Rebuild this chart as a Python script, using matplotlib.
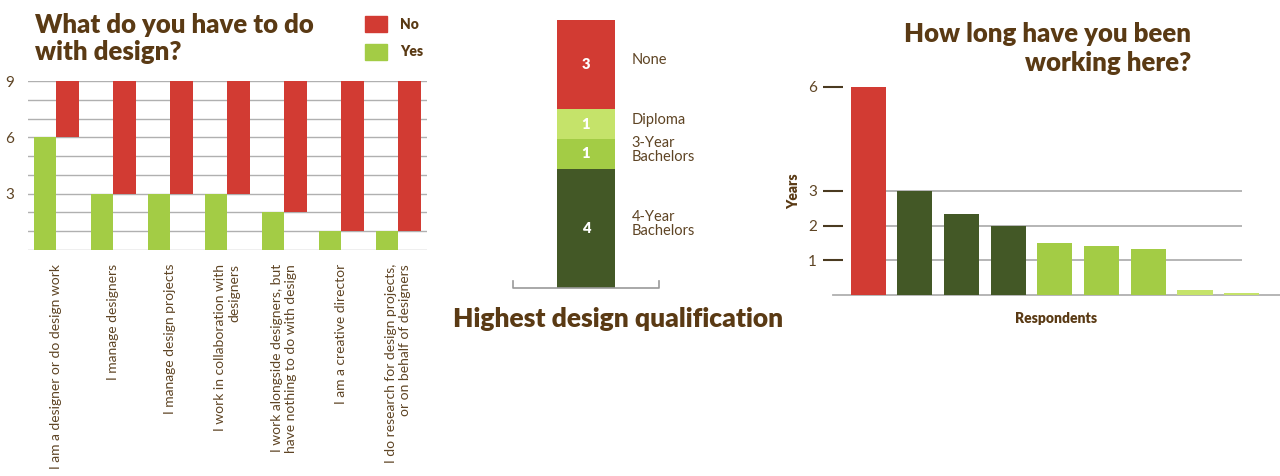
import matplotlib
matplotlib.use('Agg')
import matplotlib.pyplot as plt
from matplotlib.patches import Patch
import numpy as np

plt.rcParams['font.family'] = ['Lato', 'DejaVu Sans']

# --- data ---
roles = ['I am a designer or do design work',
         'I manage designers',
         'I manage design projects',
         'I work in collaboration with\ndesigners',
         'I work alongside designers, but\nhave nothing to do with design',
         'I am a creative director',
         'I do research for design projects,\nor on behalf of designers']
role_yes = [6, 3, 3, 3, 2, 1, 1]
role_no = [3, 6, 6, 6, 7, 8, 8]

quals = ['4-Year\nBachelors', '3-Year\nBachelors', 'Diploma', 'None']
qual_counts = [4, 1, 1, 3]

years_worked = [6, 3, 2.33, 2, 1.5, 1.42, 1.33, 0.15, 0.07]
years_group = [0, 1, 1, 1, 2, 2, 2, 3, 3]   # colour group per respondent

# --- style ---
RED = '#d23b33'
GREEN = '#a3cc45'
DARK = '#435826'
PALE = '#c5e36a'
BROWN = '#5a3a14'
TEXT = '#5e4424'
GRID = '#b0b0b0'
TW = 'heavy'   # title weight

W, H = 1280, 476
fig = plt.figure(figsize=(W / 100, H / 100), dpi=100)


def px_axes(x0, y0, x1, y1):
    # axes from pixel box (top-left origin)
    return fig.add_axes([x0 / W, 1 - y1 / H, (x1 - x0) / W, (y1 - y0) / H])


# ---------------- panel 1 ----------------
ax1 = px_axes(28, 81, 427, 250)
x = np.arange(len(roles))
bw = 0.4
ax1.bar(x - bw / 2, role_yes, bw, color=GREEN, zorder=3)
ax1.bar(x + bw / 2, role_no, bw, bottom=role_yes, color=RED, zorder=3)
ax1.set_xlim(-0.5, len(roles) - 0.5)
ax1.set_ylim(0, 9)
for v in range(0, 10):
    ax1.axhline(v, color=GRID, lw=1, zorder=1)
for s in ax1.spines.values():
    s.set_visible(False)
ax1.set_yticks([3, 6, 9])
ax1.set_yticklabels(['3', '6', '9'], fontsize=11, color=TEXT)
ax1.tick_params(axis='y', length=0, pad=10)
ax1.set_xticks(x)
ax1.set_xticklabels(roles, rotation=90, fontsize=10, color=TEXT,
                    ha='center', va='top', multialignment='right')
ax1.tick_params(axis='x', length=0, pad=10)

fig.text(35 / W, 1 - 13 / H, 'What do you have to do\nwith design?',
         fontsize=18.5, fontweight=TW, color=BROWN, va='top',
         linespacing=1.15)

leg = ax1.legend(handles=[Patch(color=RED, label='No'), Patch(color=GREEN, label='Yes')],
                 loc='upper left', bbox_to_anchor=(365 / W, 1 - 16 / H),
                 bbox_transform=fig.transFigure, frameon=False,
                 handlelength=1.6, handleheight=1.4, handletextpad=0.95,
                 labelspacing=0.85, borderpad=0, borderaxespad=0,
                 prop={'weight': 'heavy', 'size': 10})
for t in leg.get_texts():
    t.set_color(BROWN)

# ---------------- panel 2 ----------------
ax2 = px_axes(513, 20, 659, 288)
qcolors = [DARK, GREEN, PALE, RED]
bottom = 0
for q, c, col in zip(quals, qual_counts, qcolors):
    ax2.bar(0, c, 0.4, bottom=bottom, color=col)
    mid = bottom + c / 2
    ax2.text(0, mid, str(c), ha='center', va='center', color='white',
             fontsize=10.5, fontweight='heavy')
    ax2.annotate(q, (0.2, mid + 0.15), xytext=(12, 0), textcoords='offset points',
                 ha='left', va='center', fontsize=10.5, color=TEXT, linespacing=1.0)
    bottom += c
ax2.set_xlim(-0.5, 0.5)
ax2.set_ylim(0, 9)
ax2.axis('off')
ax2.plot([0, 0, 1, 1], [0.025, 0, 0, 0.025], transform=ax2.transAxes,
         color='#999999', lw=1.2, clip_on=False)
fig.text(618 / W, 1 - 319 / H, 'Highest design qualification', ha='center', va='center',
         fontsize=19, fontweight=TW, color=BROWN)

# ---------------- panel 3 ----------------
ax3 = px_axes(833, 87, 1280, 295)
xr = np.arange(len(years_worked))
gcol = [RED, DARK, GREEN, PALE]
ax3.bar(xr, years_worked, 0.75, color=[gcol[g] for g in years_group], zorder=3)
ax3.hlines([1, 2, 3], -0.375, 8, color=GRID, lw=1.3, zorder=1)
ax3.set_xlim(-0.75, 8.82)
ax3.set_ylim(0, 6)
for k in ['top', 'right', 'left']:
    ax3.spines[k].set_visible(False)
ax3.spines['bottom'].set_color(GRID)
ax3.spines['bottom'].set_linewidth(1.3)
ax3.set_xticks([])
ax3.set_yticks([1, 2, 3, 6])
ax3.tick_params(axis='y', direction='inout', length=15, width=1.5, color='#4a3a20',
                labelsize=11, labelcolor=TEXT, pad=4)
ax3.set_ylabel('Years', fontsize=10, fontweight='heavy', color=BROWN, labelpad=6)
ax3.set_xlabel('Respondents', fontsize=10, fontweight='heavy', color=BROWN, labelpad=12)

fig.text(1191 / W, 1 - 22 / H, 'How long have you been\nworking here?', ha='right', va='top',
         multialignment='right', fontsize=18.5, fontweight=TW, color=BROWN,
         linespacing=1.25)

fig.savefig('out.png', dpi=100)
